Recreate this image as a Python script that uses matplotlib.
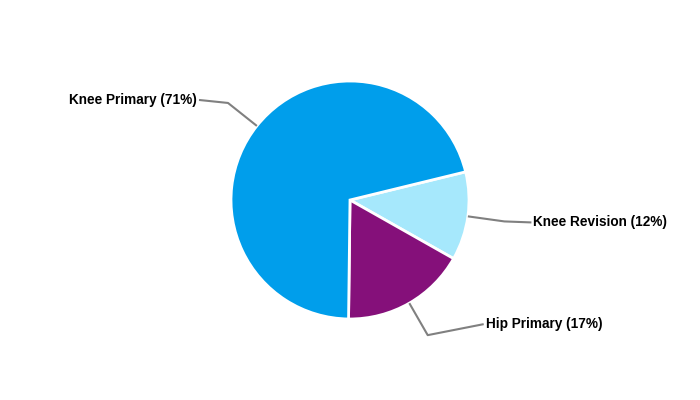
import numpy as np
import matplotlib.pyplot as plt

labels = ['Knee Revision', 'Hip Primary', 'Knee Primary']
shares = [12, 17, 71]
colors = ['#a6e8fc', '#85107a', '#009eeb']

plt.rcParams['font.family'] = ['Liberation Sans', 'DejaVu Sans']

fig = plt.figure(figsize=(7, 4), dpi=100)
ax = fig.add_axes([0, 0, 1, 1])

cx, cy, R = 350, 200, 119
start = 13.7
wedges, _ = ax.pie(shares, colors=colors, startangle=start, counterclock=False,
                   center=(cx, cy), radius=R, frame=True,
                   wedgeprops=dict(edgecolor='white', linewidth=2))
ax.set_xlim(0, 700)
ax.set_ylim(0, 400)
ax.set_aspect('equal')
ax.axis('off')

# horizontal run after the elbow (dx, dy in pixels)
tails = {'Knee Revision': (27, -1), 'Hip Primary': (56, 11), 'Knee Primary': (-29, 3)}

for w, lab, s in zip(wedges, labels, shares):
    mid = np.deg2rad((w.theta1 + w.theta2) / 2)
    p0 = (cx + R * np.cos(mid), cy + R * np.sin(mid))
    p1 = (cx + 1.31 * R * np.cos(mid), cy + 1.31 * R * np.sin(mid))
    dx, dy = tails[lab]
    p2 = (p1[0] + dx, p1[1] + dy)
    ax.plot([p0[0], p1[0], p2[0]], [p0[1], p1[1], p2[1]], color='#808080', lw=1.5,
            solid_capstyle='butt')
    ha = 'left' if dx > 0 else 'right'
    off = 2 if dx > 0 else -2
    ax.text(p2[0] + off, p2[1], f'{lab} ({s}%)', ha=ha, va='center',
            fontsize=9.8, fontweight='bold', color='black')

fig.savefig('out.png', dpi=100)
